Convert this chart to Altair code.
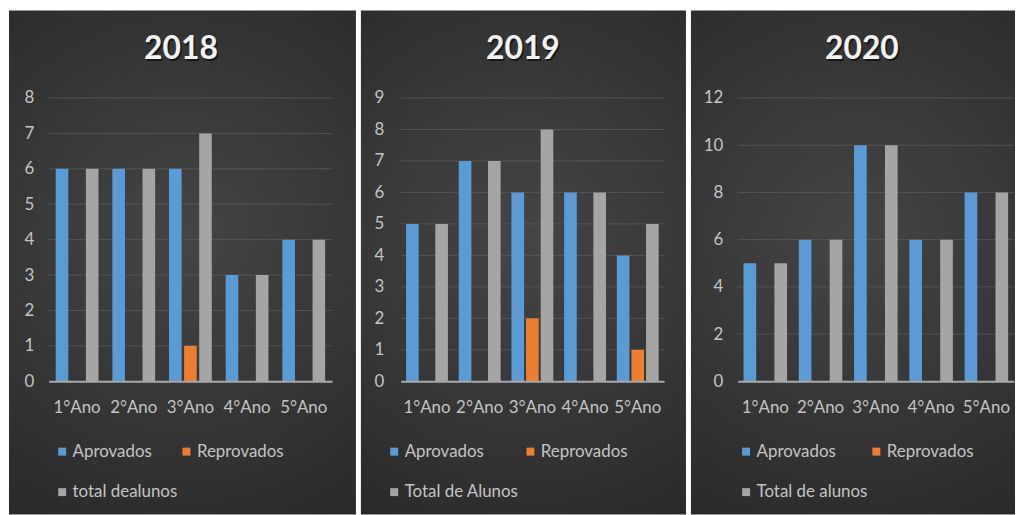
import altair as alt
import pandas as pd

categories = ["1°Ano", "2°Ano", "3°Ano", "4°Ano", "5°Ano"]

series_2018 = ["Aprovados", "Reprovados", "total dealunos"]
aprov_2018 = [6, 6, 6, 3, 4]
reprov_2018 = [0, 0, 1, 0, 0]
total_2018 = [6, 6, 7, 3, 4]
ticks_2018 = [0, 1, 2, 3, 4, 5, 6, 7, 8]

series_2019 = ["Aprovados", "Reprovados", "Total de Alunos"]
aprov_2019 = [5, 7, 6, 6, 4]
reprov_2019 = [0, 0, 2, 0, 1]
total_2019 = [5, 7, 8, 6, 5]
ticks_2019 = [0, 1, 2, 3, 4, 5, 6, 7, 8, 9]

series_2020 = ["Aprovados", "Reprovados", "Total de alunos"]
aprov_2020 = [5, 6, 10, 6, 8]
reprov_2020 = [0, 0, 0, 0, 0]
total_2020 = [5, 6, 10, 6, 8]
ticks_2020 = [0, 2, 4, 6, 8, 10, 12]

COLORS = ["#5b9bd5", "#ed7d31", "#a5a5a5"]
FONT = "Lato"
TXT = "#c4c4c4"

H = 285
TOP = 88
BOTTOM = 134

grad = alt.RadialGradient(
    gradient="radial",
    stops=[
        alt.GradientStop(color="#454545", offset=0),
        alt.GradientStop(color="#353535", offset=0.5),
        alt.GradientStop(color="#252525", offset=1),
    ],
    x1=0.5, y1=0.45, x2=0.5, y2=0.45, r1=0, r2=0.75,
)


def panel(year, names, vals, ticks, W, left, right, pi, po, title_dx, ylab_pad, legend_x, col_pad):
    rows = []
    for name, vs in zip(names, vals):
        for c, v in zip(categories, vs):
            rows.append({"cat": c, "series": name, "value": v})
    df = pd.DataFrame(rows)
    yscale = alt.Scale(domain=[ticks[0], ticks[-1]], nice=False, zero=True)
    yaxis = alt.Axis(values=ticks, title=None, domain=False, ticks=False, grid=False,
                     labelPadding=ylab_pad, labelFontSize=17, labelColor=TXT, labelFont=FONT, zindex=1)

    bg = alt.Chart(alt.Data(values=[{"a": 1}])).mark_rect(fill=grad, clip=False).encode(
        x=alt.value(-left), x2=alt.value(W + right),
        y=alt.value(-TOP), y2=alt.value(H + BOTTOM),
    )
    title_data = alt.Data(values=[{"year": year}])
    title_shadow = alt.Chart(title_data).mark_text(
        font=FONT, fontSize=32, fontWeight="bold", color="#000000", opacity=0.55,
        baseline="alphabetic", align="center", clip=False,
    ).encode(text="year:N", x=alt.value(W / 2 + title_dx + 1.5), y=alt.value(-39 + 2))
    title = alt.Chart(title_data).mark_text(
        font=FONT, fontSize=32, fontWeight="bold", color="#f2f2f2",
        baseline="alphabetic", align="center", clip=False,
    ).encode(text="year:N", x=alt.value(W / 2 + title_dx), y=alt.value(-39))

    grid = alt.Chart(pd.DataFrame({"value": ticks[1:]})).mark_rule(
        color="#5c5c5c", strokeWidth=1, opacity=0.75
    ).encode(y=alt.Y("value:Q", scale=yscale, axis=yaxis))

    bars = alt.Chart(df).mark_bar().encode(
        x=alt.X("cat:N", sort=categories,
                scale=alt.Scale(paddingInner=0, paddingOuter=0),
                axis=alt.Axis(title=None, labelAngle=0, ticks=False, domain=True,
                              domainColor="#a8a8a8", domainWidth=2, labelPadding=18,
                              labelFontSize=17, labelColor=TXT, labelFont=FONT, zindex=1)),
        xOffset=alt.XOffset("series:N", sort=names,
                            scale=alt.Scale(domain=names, paddingInner=pi, paddingOuter=po)),
        y=alt.Y("value:Q", scale=yscale, axis=yaxis),
        color=alt.Color("series:N", sort=names,
                        scale=alt.Scale(domain=names, range=COLORS),
                        legend=alt.Legend(title=None, orient="none", legendX=legend_x, legendY=347,
                                          columns=2, direction="horizontal",
                                          symbolType="square", symbolSize=64,
                                          symbolStrokeWidth=0, labelFontSize=17, labelColor=TXT,
                                          labelFont=FONT, labelOffset=2, rowPadding=23,
                                          columnPadding=col_pad, padding=0)),
    )
    return alt.layer(bg, title_shadow, title, grid, bars).properties(width=W, height=H)


p1 = panel("2018", series_2018, [aprov_2018, reprov_2018, total_2018], ticks_2018,
           W=285, left=40, right=24, pi=0.165, po=0.46, title_dx=-9.5, ylab_pad=15,
           legend_x=5, col_pad=-11)
p2 = panel("2019", series_2019, [aprov_2019, reprov_2019, total_2019], ticks_2019,
           W=265, left=40, right=22, pi=0.136, po=0.37, title_dx=-9.5, ylab_pad=17,
           legend_x=-15, col_pad=3)
p3 = panel("2020", series_2020, [aprov_2020, reprov_2020, total_2020], ticks_2020,
           W=278, left=47, right=1, pi=0.18, po=0.38, title_dx=-14, ylab_pad=15,
           legend_x=0, col_pad=-10)

chart = alt.hconcat(p1, p2, p3, spacing=3, padding=0).resolve_scale(
    x="independent", y="independent", color="independent", xOffset="independent"
).resolve_legend(color="independent").configure_view(stroke=None).configure(background="white")

chart.save("out.html", embed_options={"renderer": "svg", "actions": False})
